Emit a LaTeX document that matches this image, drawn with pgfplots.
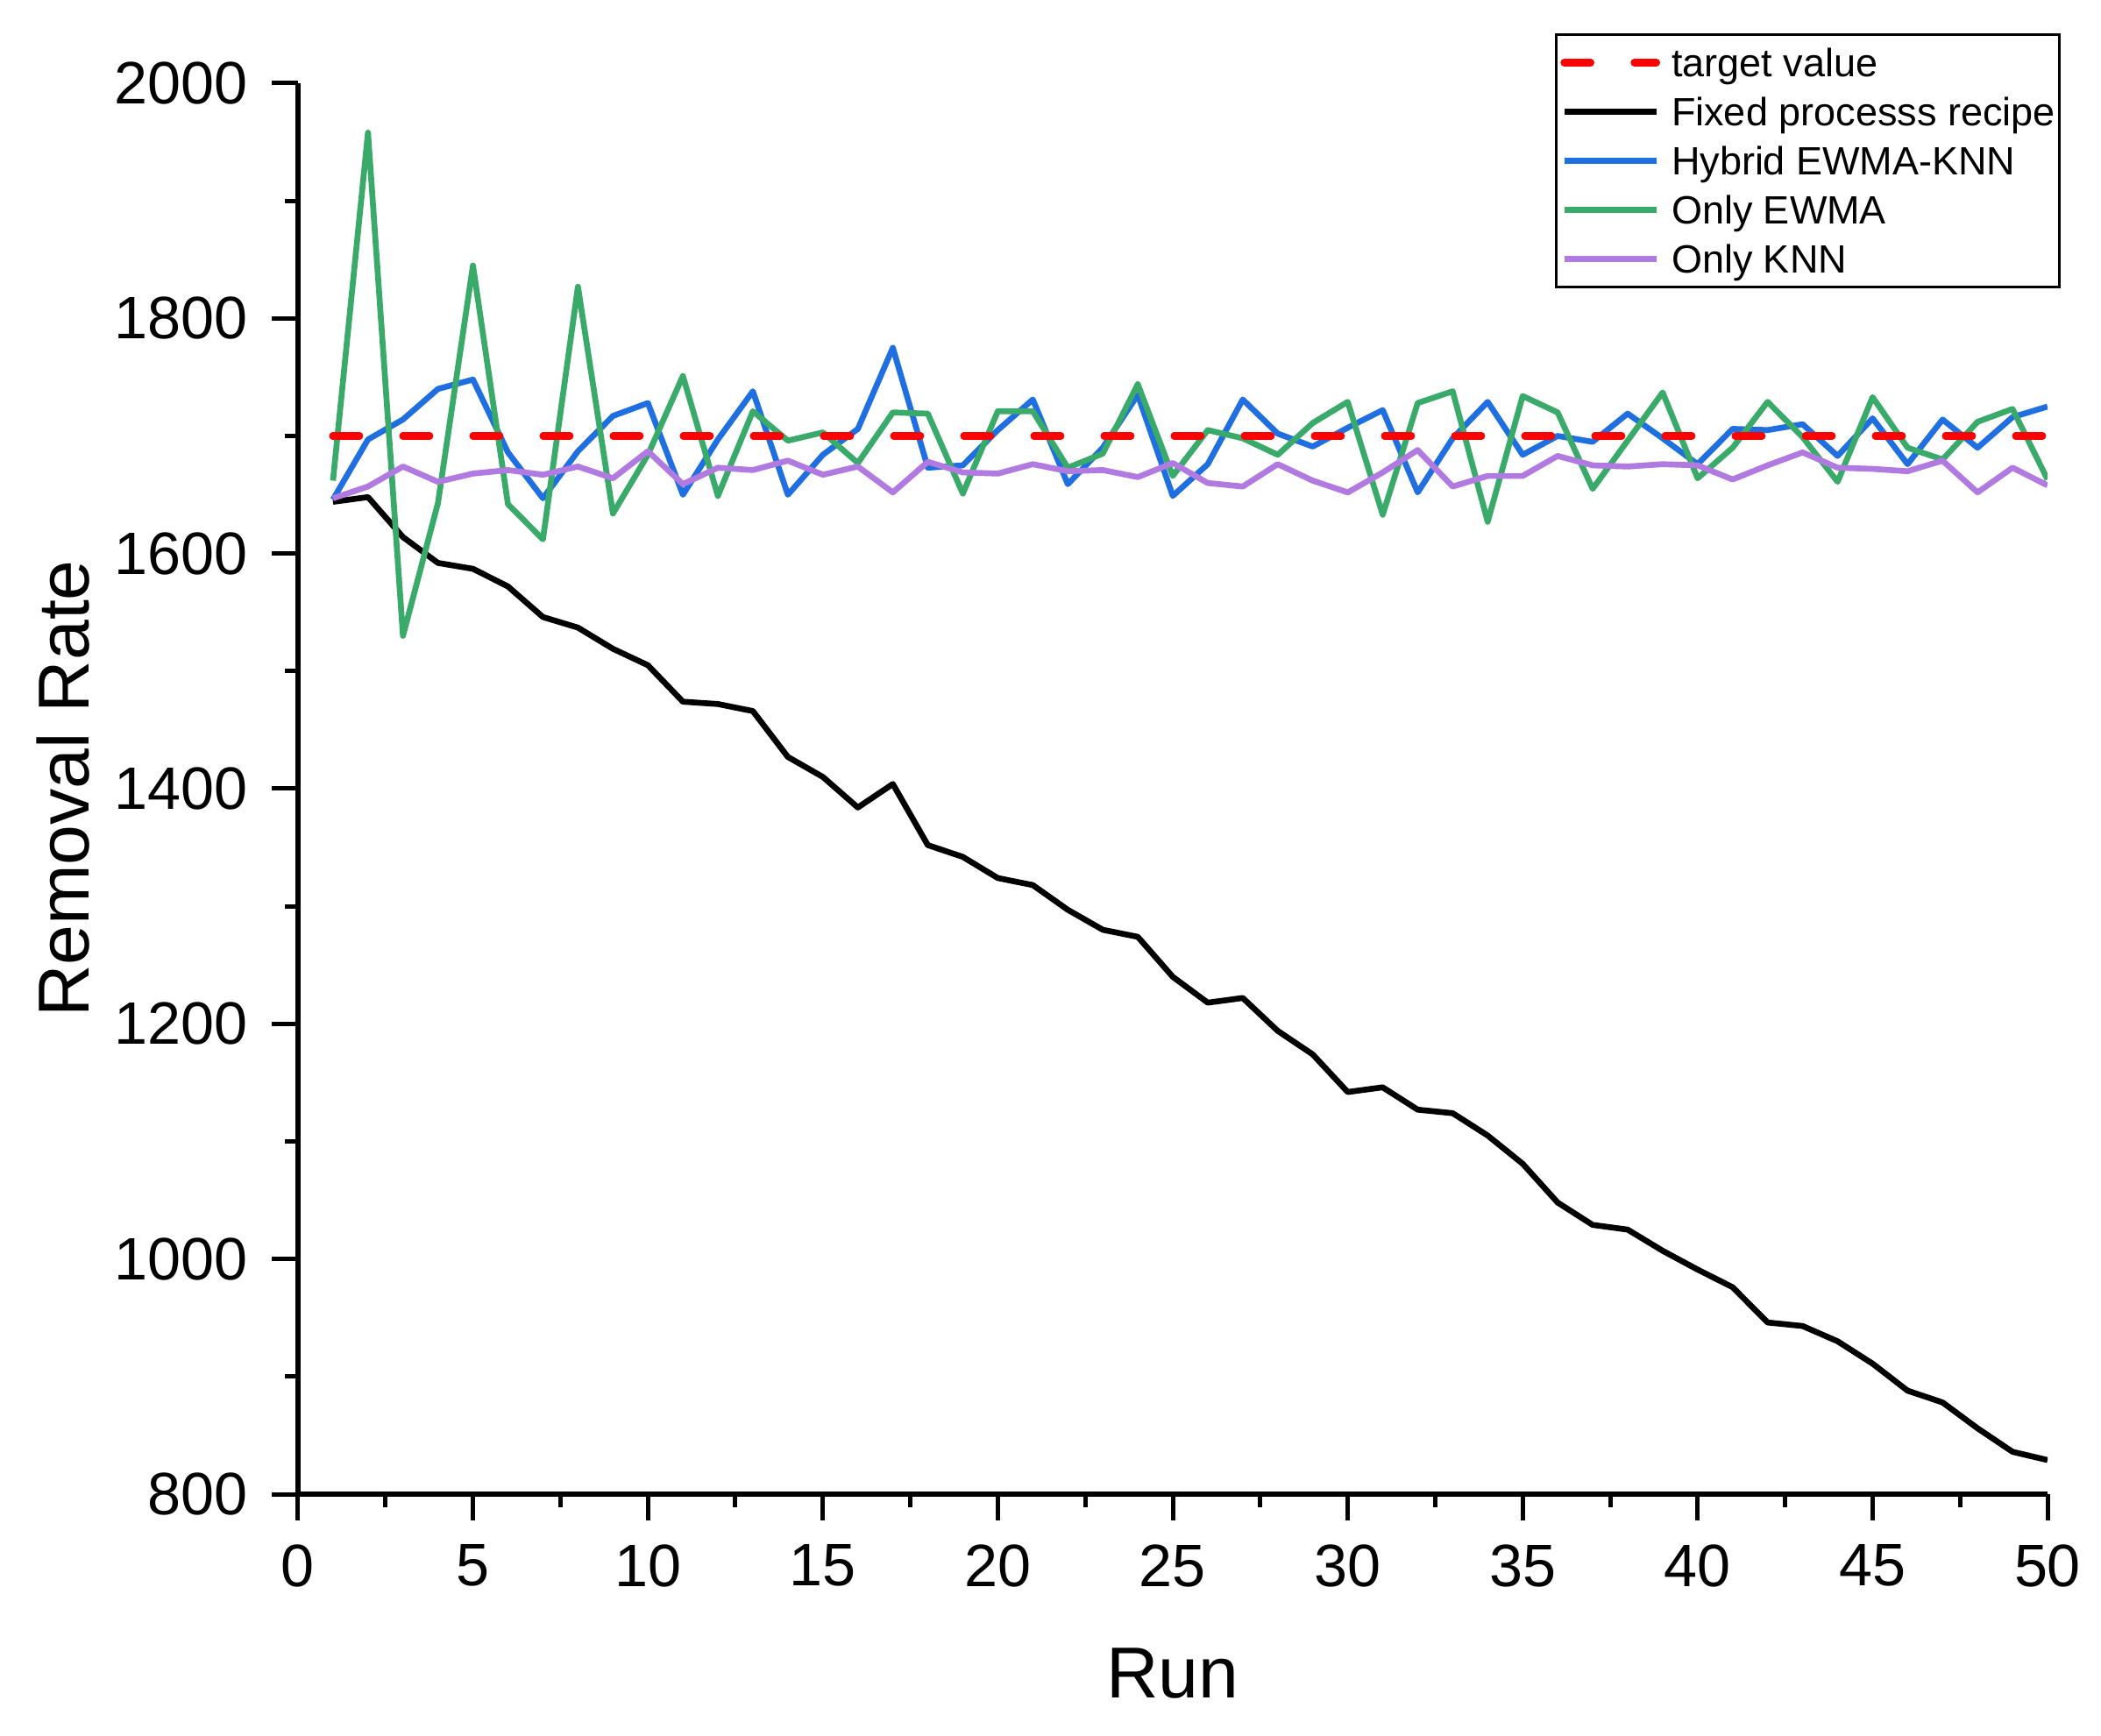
\documentclass[border=0pt]{standalone}
\usepackage{fontspec}
\setmainfont{Liberation Sans}
\usepackage{pgfplots}
\pgfplotsset{compat=1.18}
\definecolor{cblue}{RGB}{31,111,224}
\definecolor{cgreen}{RGB}{58,170,107}
\definecolor{cpurple}{RGB}{176,122,224}
\begin{document}
\begin{tikzpicture}
\begin{axis}[
  scale only axis,
  width=598.8pt, height=483pt,
  xmin=0, xmax=50, ymin=800, ymax=2000,
  axis lines=left,
  axis line style={-, line width=2pt, black},
  xtick={0,5,...,50}, ytick={800,1000,...,2000},
  minor x tick num=1, minor y tick num=1,
  tick align=outside,
  major tick length=9pt, minor tick length=4.5pt,
  every tick/.style={black, line width=1.5pt},
  /pgf/number format/assume math mode=true,
  /pgf/number format/1000 sep={},
  ticklabel style={font=\fontsize{20.5}{20.5}\selectfont, inner sep=8pt},
  xlabel={Run}, ylabel={Removal Rate},
  every axis x label/.style={at={(axis description cs:0.5,-0.1441)}, anchor=base, font=\fontsize{24.7}{24.7}\selectfont},
  every axis y label/.style={at={(axis description cs:-0.11957,0.5)}, rotate=90, anchor=base, font=\fontsize{24.7}{24.7}\selectfont},
  legend style={at={(1.00752,1.0354)}, anchor=north east, draw=black, line width=0.8pt,
    font=\fontsize{13.5}{16}\selectfont, inner xsep=1.5pt, inner ysep=2.85pt, row sep=3.3pt,
    nodes={inner sep=0pt, text height=11.6pt, text depth=1.9pt},
    /tikz/every odd column/.append style={column sep=3.9pt}},
  legend cell align=left,
  legend image code/.code={\draw[mark repeat=2,mark phase=2] plot coordinates {(0pt,0pt)(15.75pt,0pt)(31.5pt,0pt)};},
  every axis plot/.append style={no marks, line join=round},
]
\addplot[red, line width=2.6pt, line cap=round, dash pattern=on 9pt off 15pt] coordinates {(1,1700)(50,1700)};
\addlegendentry{target value}
\addplot[black, line width=2pt] coordinates {
(1,1644)(2,1648)(3,1614)(4,1592)(5,1587)(6,1572)(7,1546)(8,1537)(9,1519)(10,1505)
(11,1474)(12,1472)(13,1466)(14,1427)(15,1410)(16,1384)(17,1404)(18,1352)(19,1342)(20,1324)
(21,1318)(22,1297)(23,1280)(24,1274)(25,1240)(26,1218)(27,1222)(28,1194)(29,1174)(30,1142)
(31,1146)(32,1127)(33,1124)(34,1105)(35,1081)(36,1048)(37,1029)(38,1025)(39,1007)(40,991)
(41,976)(42,946)(43,943)(44,930)(45,911)(46,888)(47,878)(48,856)(49,836)(50,829)};
\addlegendentry{Fixed processs recipe}
\addplot[cblue, line width=2pt] coordinates {
(1,1646)(2,1697)(3,1714)(4,1740)(5,1748)(6,1686)(7,1647)(8,1687)(9,1717)(10,1728)
(11,1650)(12,1697)(13,1738)(14,1650)(15,1684)(16,1706)(17,1775)(18,1673)(19,1675)(20,1705)
(21,1731)(22,1659)(23,1690)(24,1735)(25,1649)(26,1676)(27,1731)(28,1702)(29,1691)(30,1707)
(31,1722)(32,1652)(33,1698)(34,1729)(35,1684)(36,1700)(37,1695)(38,1719)(39,1698)(40,1676)
(41,1706)(42,1705)(43,1710)(44,1683)(45,1715)(46,1676)(47,1714)(48,1690)(49,1716)(50,1725)};
\addlegendentry{Hybrid EWMA-KNN}
\addplot[cgreen, line width=2pt] coordinates {
(1,1662)(2,1958)(3,1530)(4,1643)(5,1845)(6,1642)(7,1612)(8,1827)(9,1634)(10,1684)
(11,1751)(12,1649)(13,1721)(14,1696)(15,1703)(16,1677)(17,1720)(18,1719)(19,1651)(20,1721)
(21,1721)(22,1673)(23,1685)(24,1744)(25,1666)(26,1705)(27,1698)(28,1684)(29,1711)(30,1729)
(31,1633)(32,1728)(33,1738)(34,1627)(35,1734)(36,1720)(37,1655)(38,1696)(39,1737)(40,1664)
(41,1690)(42,1729)(43,1699)(44,1661)(45,1733)(46,1690)(47,1680)(48,1712)(49,1723)(50,1663)};
\addlegendentry{Only EWMA}
\addplot[cpurple, line width=2pt] coordinates {
(1,1647)(2,1657)(3,1674)(4,1661)(5,1668)(6,1671)(7,1667)(8,1674)(9,1664)(10,1687)
(11,1659)(12,1673)(13,1671)(14,1679)(15,1667)(16,1674)(17,1652)(18,1678)(19,1669)(20,1668)
(21,1676)(22,1670)(23,1671)(24,1665)(25,1677)(26,1660)(27,1657)(28,1676)(29,1662)(30,1652)
(31,1669)(32,1688)(33,1657)(34,1666)(35,1666)(36,1683)(37,1675)(38,1674)(39,1676)(40,1675)
(41,1663)(42,1675)(43,1686)(44,1673)(45,1672)(46,1670)(47,1679)(48,1652)(49,1673)(50,1658)};
\addlegendentry{Only KNN}
\addplot[red, line width=2.6pt, line cap=round, dash pattern=on 9pt off 15pt, forget plot] coordinates {(1,1700)(50,1700)};
\coordinate (O) at (rel axis cs:0,0);
\end{axis}
\pgfresetboundingbox
\path[use as bounding box] ([xshift=-102pt,yshift=-82.5pt]O) rectangle ++(719.1pt,594pt);
\end{tikzpicture}
\end{document}
